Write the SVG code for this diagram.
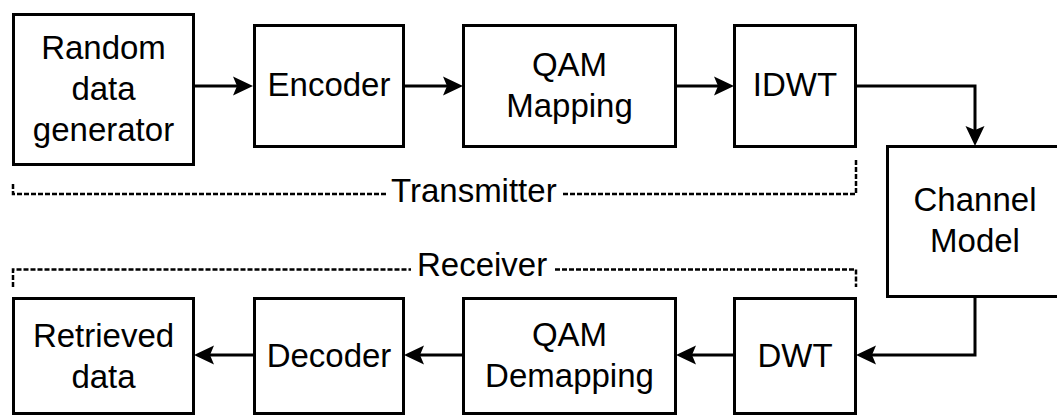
<svg xmlns="http://www.w3.org/2000/svg" width="1057" height="416" viewBox="0 0 1057 416">
<style>
.box{fill:#fff;stroke:#000;stroke-width:3}
.lbl{font-family:"Liberation Sans",Arial,sans-serif;font-size:33px;fill:#000;text-anchor:middle}
.grp{font-family:"Liberation Sans",Arial,sans-serif;font-size:33px;fill:#000;text-anchor:start}
.edge{fill:none;stroke:#000;stroke-width:3;marker-end:url(#arr)}
.dash{fill:none;stroke:#000;stroke-width:2.5;stroke-dasharray:5 2}
</style>
<defs>
<marker id="arr" markerUnits="userSpaceOnUse" viewBox="0 0 20 20" refX="10" refY="10" markerWidth="20" markerHeight="20" orient="auto">
<path d="M0,0.5 L20,10 L0,19.5 L4,10 z" fill="#000"/>
</marker>
</defs>
<rect width="1057" height="416" fill="#fff"/>
<g id="connectors">
<path class="edge" d="M194,86 H243"/>
<path class="edge" d="M404,86 H453"/>
<path class="edge" d="M676,86 H724"/>
<path class="edge" d="M856,86 H975 V136"/>
<path class="edge" d="M975,297 V355 H866"/>
<path class="edge" d="M734,355 H686"/>
<path class="edge" d="M463,355 H414"/>
<path class="edge" d="M254,355 H204"/>
</g>
<g id="transmitter">
<path class="dash" d="M13,184 V194 H388"/>
<path class="dash" d="M563,194 H856 V159"/>
<text class="grp" x="391" y="202">Transmitter</text>
</g>
<g id="receiver">
<path class="dash" d="M13,287 V269.5 H411"/>
<path class="dash" d="M555,269.5 H856 V287"/>
<text class="grp" x="417" y="276">Receiver</text>
</g>
<g id="random-data-generator">
<rect class="box" x="13.5" y="14.5" width="180" height="150"/>
<text class="lbl" x="103.5" y="59">Random</text>
<text class="lbl" x="103.5" y="100">data</text>
<text class="lbl" x="103.5" y="141">generator</text>
</g>
<g id="encoder">
<rect class="box" x="254.5" y="25.5" width="149" height="121"/>
<text class="lbl" x="329" y="96">Encoder</text>
</g>
<g id="qam-mapping">
<rect class="box" x="463.5" y="25.5" width="212" height="121"/>
<text class="lbl" x="569.5" y="76">QAM</text>
<text class="lbl" x="569.5" y="117">Mapping</text>
</g>
<g id="idwt">
<rect class="box" x="734.5" y="25.5" width="121" height="121"/>
<text class="lbl" x="795" y="96">IDWT</text>
</g>
<g id="channel-model">
<rect class="box" x="887.5" y="146.5" width="176" height="150"/>
<text class="lbl" x="975" y="211">Channel</text>
<text class="lbl" x="975" y="252">Model</text>
</g>
<g id="retrieved-data">
<rect class="box" x="13.5" y="298.5" width="180" height="115"/>
<text class="lbl" x="103.5" y="347">Retrieved</text>
<text class="lbl" x="103.5" y="388">data</text>
</g>
<g id="decoder">
<rect class="box" x="254.5" y="298.5" width="149" height="115"/>
<text class="lbl" x="329" y="367">Decoder</text>
</g>
<g id="qam-demapping">
<rect class="box" x="463.5" y="298.5" width="212" height="115"/>
<text class="lbl" x="569.5" y="346">QAM</text>
<text class="lbl" x="569.5" y="387">Demapping</text>
</g>
<g id="dwt">
<rect class="box" x="734.5" y="298.5" width="121" height="115"/>
<text class="lbl" x="795" y="367">DWT</text>
</g>
</svg>
